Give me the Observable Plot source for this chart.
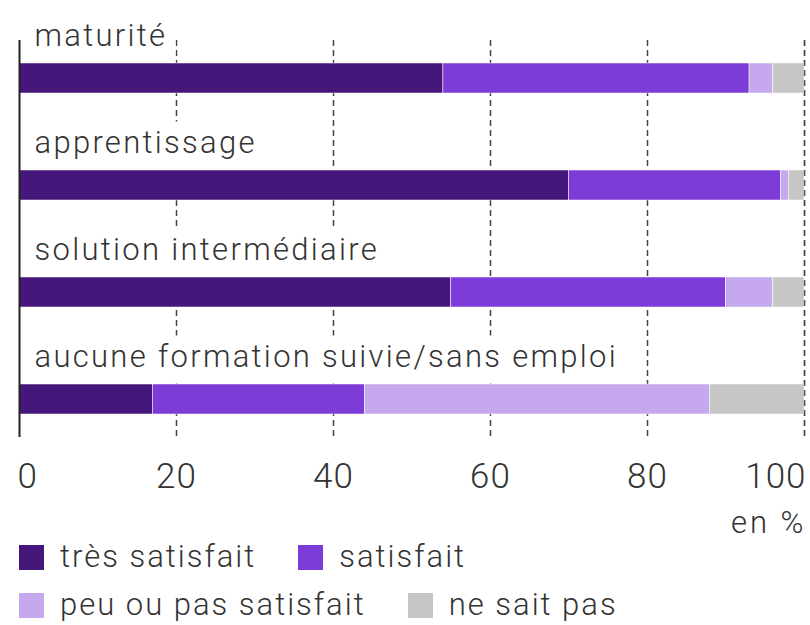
<!DOCTYPE html>
<html>
<head>
<meta charset="utf-8">
<script src="https://cdn.jsdelivr.net/npm/d3@7"></script>
<script src="https://cdn.jsdelivr.net/npm/@observablehq/plot@0.6"></script>
<style>
  html, body { margin: 0; padding: 0; background: #fff; }
  body { width: 810px; height: 625px; overflow: hidden; font-family: Roboto, "Noto Sans", sans-serif; font-weight: 300; color: #333; }
  #legend { display: flex; flex-wrap: wrap; padding-left: 19px; width: 791px; box-sizing: border-box; font-size: 31px; line-height: 48px; letter-spacing: 2px; }
  #legend .item { display: flex; align-items: center; margin-right: 42px; }
  #legend .sw { width: 25px; height: 25px; margin-right: 16px; }
</style>
</head>
<body>
<div id="chart"></div>
<div id="legend"></div>
<script>
const categories = ["maturité", "apprentissage", "solution intermédiaire", "aucune formation suivie/sans emploi"];
const series = ["très satisfait", "satisfait", "peu ou pas satisfait", "ne sait pas"];
const colors = ["#45177a", "#7d3cd8", "#c6a8ee", "#c6c6c6"];
const tresSatisfait = [54, 70, 55, 17];
const satisfait = [39, 27, 35, 27];
const peuOuPasSatisfait = [3, 1, 6, 44];
const neSaitPas = [4, 2, 4, 12];
const xTicks = [0, 20, 40, 60, 80, 100];
const unitLabel = "en %";

const valuesBySeries = [tresSatisfait, satisfait, peuOuPasSatisfait, neSaitPas];
const data = [];
categories.forEach((c, i) => {
  series.forEach((s, j) => data.push({category: c, series: s, value: valuesBySeries[j][i]}));
});

const font = "Roboto, 'Noto Sans', sans-serif";
const plot = Plot.plot({
  width: 810,
  height: 533,
  marginLeft: 19,
  marginRight: 6,
  marginTop: 40,
  marginBottom: 96,
  style: {fontFamily: font, fontWeight: 300, color: "#333", background: "white", overflow: "visible"},
  x: {domain: [0, 100]},
  y: {domain: categories, paddingInner: 0.721, paddingOuter: 0.207, axis: null},
  color: {domain: series, range: colors},
  marks: [
    Plot.ruleX(xTicks.slice(1), {stroke: "#444", strokeWidth: 1.5, strokeDasharray: "6,4"}),
    Plot.barX(data, {x: "value", y: "category", fill: "series", stroke: "white", strokeWidth: 0.5}),
    Plot.ruleX(xTicks.slice(-1), {stroke: "#444", strokeWidth: 1.5, strokeDasharray: "6,4", strokeOpacity: 0.6}),
    Plot.text(categories, {x: 0, y: d => d, text: d => d, textAnchor: "start", lineAnchor: "bottom", dx: 15, dy: -33, fontSize: 31, fill: "#333"}),
    Plot.ruleX([0], {stroke: "#222", strokeWidth: 2}),
    Plot.axisX(xTicks.slice(0, 1), {tickSize: 0, tickPadding: 26, fontSize: 35, textAnchor: "start", label: null, fill: "#333", dx: -2}),
    Plot.axisX(xTicks.slice(1, -1), {tickSize: 0, tickPadding: 26, fontSize: 35, label: null, fill: "#333"}),
    Plot.axisX(xTicks.slice(-1), {tickSize: 0, tickPadding: 26, fontSize: 35, textAnchor: "end", label: null, fill: "#333", dx: 2}),
    Plot.text([unitLabel], {frameAnchor: "bottom-right", text: d => d, textAnchor: "end", lineAnchor: "bottom", dx: 2, dy: 95, fontSize: 31, fill: "#333"})
  ]
});
const labelTexts = [];
d3.select(plot).selectAll("text").each(function () {
  const t = this.textContent;
  if (categories.includes(t)) { this.setAttribute("letter-spacing", "2.3px"); labelTexts.push(this); }
  else if (t === unitLabel) this.setAttribute("letter-spacing", "3px");
  else this.setAttribute("letter-spacing", "1px");
});
document.getElementById("chart").appendChild(plot);

// white background boxes behind the category labels (hide the grid under them)
const yScale = plot.scale("y");
const xScale = plot.scale("x");
const svgBox = plot.getBoundingClientRect();
const labelGroup = labelTexts.length ? labelTexts[0].parentNode : null;
if (labelGroup) {
  const bgGroup = document.createElementNS("http://www.w3.org/2000/svg", "g");
  labelTexts.forEach(el => {
    const r = el.getBoundingClientRect();
    const bandTop = yScale.apply(el.textContent);
    const left = xScale.apply(0) + 1;
    const top = r.top - svgBox.top - 2;
    const rect = document.createElementNS("http://www.w3.org/2000/svg", "rect");
    rect.setAttribute("x", left);
    rect.setAttribute("y", top);
    rect.setAttribute("width", Math.max(0, r.right - svgBox.left + 8 - left));
    rect.setAttribute("height", Math.max(0, bandTop - top - 0.5));
    rect.setAttribute("fill", "white");
    bgGroup.appendChild(rect);
  });
  labelGroup.parentNode.insertBefore(bgGroup, labelGroup);
}

const legend = document.getElementById("legend");
series.forEach((s, j) => {
  const item = document.createElement("div");
  item.className = "item";
  const sw = document.createElement("span");
  sw.className = "sw";
  sw.style.background = colors[j];
  const label = document.createElement("span");
  label.textContent = s;
  item.appendChild(sw);
  item.appendChild(label);
  legend.appendChild(item);
});
</script>
</body>
</html>
